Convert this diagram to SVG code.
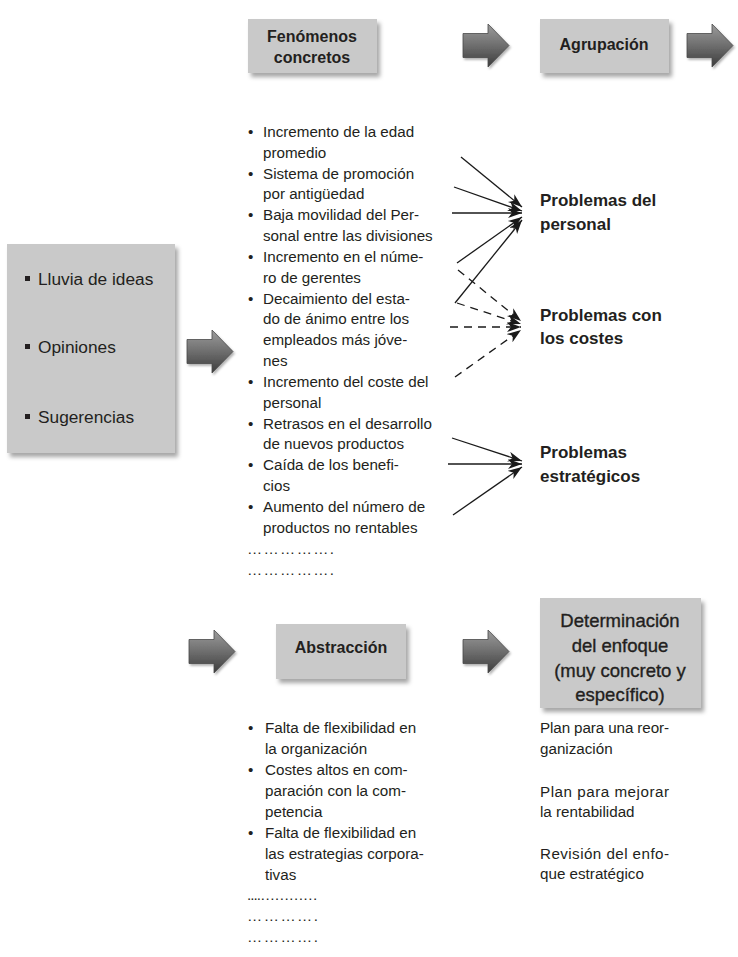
<svg xmlns="http://www.w3.org/2000/svg" width="738" height="957" viewBox="0 0 738 957">
<defs>
<style>
.box{fill:#c9c9c9;filter:url(#sh)}
.t{font-family:"Liberation Sans",Arial,sans-serif;font-size:15.2px;fill:#231f20}
.big{font-family:"Liberation Sans",Arial,sans-serif;font-size:17.3px;fill:#231f20}
.hd{font-family:"Liberation Sans",Arial,sans-serif;font-size:16px;font-weight:bold;fill:#231f20;text-anchor:middle}
.pb{font-family:"Liberation Sans",Arial,sans-serif;font-size:17px;font-weight:bold;fill:#231f20}
.det{font-family:"Liberation Sans",Arial,sans-serif;font-size:18.5px;fill:#231f20;stroke:#231f20;stroke-width:0.35;text-anchor:middle}
.ln{stroke:#1a1a1a;stroke-width:1.3;fill:none;marker-end:url(#ah)}
.dl{stroke:#1a1a1a;stroke-width:1.3;fill:none;stroke-dasharray:8 6;marker-end:url(#ah)}
.ba{fill:url(#ag);stroke:#4a4a4a;stroke-width:0.8;filter:url(#sh2)}
</style>
<filter id="sh" x="-10%" y="-10%" width="130%" height="130%">
<feDropShadow dx="3" dy="4" stdDeviation="2.2" flood-color="#000" flood-opacity="0.35"/>
</filter>
<filter id="sh2" x="-20%" y="-20%" width="150%" height="150%">
<feDropShadow dx="1.5" dy="2" stdDeviation="1.2" flood-color="#000" flood-opacity="0.3"/>
</filter>
<linearGradient id="ag" x1="0" y1="0" x2="0" y2="1">
<stop offset="0" stop-color="#9c9c9c"/>
<stop offset="0.5" stop-color="#6e6e6e"/>
<stop offset="1" stop-color="#3c3c3c"/>
</linearGradient>
<marker id="ah" markerUnits="userSpaceOnUse" markerWidth="16" markerHeight="12" refX="14" refY="5" orient="auto">
<path d="M0,0 L14,5 L0,10 L4,5 Z" fill="#1a1a1a"/>
</marker>
<path id="barrow" d="M0,9.5 H25 V0 L46,21.5 L25,43 V33.5 H0 Z"/>
</defs>

<g id="node-fuentes">
<rect class="box" x="7" y="244" width="168" height="209"/>
<rect x="25" y="276" width="5" height="5" fill="#231f20"/>
<text class="big" x="38" y="285">Lluvia de ideas</text>
<rect x="25" y="344" width="5" height="5" fill="#231f20"/>
<text class="big" x="38" y="353">Opiniones</text>
<rect x="25" y="414" width="5" height="5" fill="#231f20"/>
<text class="big" x="38" y="423">Sugerencias</text>
</g>

<g id="node-fenomenos">
<rect class="box" x="248" y="19" width="129" height="54"/>
<text class="hd" x="312" y="42">Fenómenos</text>
<text class="hd" x="312" y="63">concretos</text>
</g>

<g id="node-agrupacion">
<rect class="box" x="540" y="19" width="129" height="54"/>
<text class="hd" x="604" y="50">Agrupación</text>
</g>

<g id="node-abstraccion">
<rect class="box" x="276" y="624" width="130" height="55"/>
<text class="hd" x="341" y="653">Abstracción</text>
</g>

<g id="node-determinacion">
<rect class="box" x="540" y="598" width="161" height="110"/>
<text class="det" x="620" y="627">Determinación</text>
<text class="det" x="620" y="652">del enfoque</text>
<text class="det" x="620" y="677">(muy concreto y</text>
<text class="det" x="620" y="701">específico)</text>
</g>

<g id="node-fenomenos-lista">
<text class="t" x="248" y="137">•</text>
<text class="t" x="263" y="137">Incremento de la edad</text>
<text class="t" x="263" y="158">promedio</text>
<text class="t" x="248" y="179">•</text>
<text class="t" x="263" y="179">Sistema de promoción</text>
<text class="t" x="263" y="199">por antigüedad</text>
<text class="t" x="248" y="220">•</text>
<text class="t" x="263" y="220">Baja movilidad del Per-</text>
<text class="t" x="263" y="241">sonal entre las divisiones</text>
<text class="t" x="248" y="262">•</text>
<text class="t" x="263" y="262">Incremento en el núme-</text>
<text class="t" x="263" y="283">ro de gerentes</text>
<text class="t" x="248" y="304">•</text>
<text class="t" x="263" y="304">Decaimiento del esta-</text>
<text class="t" x="263" y="324">do de ánimo entre los</text>
<text class="t" x="263" y="345">empleados más jóve-</text>
<text class="t" x="263" y="366">nes</text>
<text class="t" x="248" y="387">•</text>
<text class="t" x="263" y="387">Incremento del coste del</text>
<text class="t" x="263" y="408">personal</text>
<text class="t" x="248" y="429">•</text>
<text class="t" x="263" y="429">Retrasos en el desarrollo</text>
<text class="t" x="263" y="449">de nuevos productos</text>
<text class="t" x="248" y="470">•</text>
<text class="t" x="263" y="470">Caída de los benefi-</text>
<text class="t" x="263" y="491">cios</text>
<text class="t" x="248" y="512">•</text>
<text class="t" x="263" y="512">Aumento del número de</text>
<text class="t" x="263" y="533">productos no rentables</text>
<text class="t" x="247" y="554" textLength="87" lengthAdjust="spacing">…………….</text>
<text class="t" x="247" y="575" textLength="87" lengthAdjust="spacing">…………….</text>
</g>

<g id="node-problemas-personal">
<text class="pb" x="540" y="206">Problemas del</text>
<text class="pb" x="540" y="230">personal</text>
</g>
<g id="node-problemas-costes">
<text class="pb" x="540" y="321">Problemas con</text>
<text class="pb" x="540" y="344">los costes</text>
</g>
<g id="node-problemas-estrategicos">
<text class="pb" x="540" y="458">Problemas</text>
<text class="pb" x="540" y="482">estratégicos</text>
</g>

<g id="node-abstraccion-lista">
<text class="t" x="248" y="733">•</text>
<text class="t" x="265" y="733">Falta de flexibilidad en</text>
<text class="t" x="265" y="754">la organización</text>
<text class="t" x="248" y="775">•</text>
<text class="t" x="265" y="775">Costes altos en com-</text>
<text class="t" x="265" y="796">paración con la com-</text>
<text class="t" x="265" y="817">petencia</text>
<text class="t" x="248" y="838">•</text>
<text class="t" x="265" y="838">Falta de flexibilidad en</text>
<text class="t" x="265" y="859">las estrategias corpora-</text>
<text class="t" x="265" y="880">tivas</text>
<text class="t" x="247" y="900" textLength="71" lengthAdjust="spacing">....…………</text>
<text class="t" x="247" y="921" textLength="71" lengthAdjust="spacing">………….</text>
<text class="t" x="247" y="942" textLength="71" lengthAdjust="spacing">………….</text>
</g>

<g id="node-enfoque-lista">
<text class="t" x="540" y="733" textLength="129" lengthAdjust="spacing">Plan para una reor-</text>
<text class="t" x="540" y="754">ganización</text>
<text class="t" x="540" y="797" textLength="129" lengthAdjust="spacing">Plan para mejorar</text>
<text class="t" x="540" y="817">la rentabilidad</text>
<text class="t" x="540" y="859" textLength="129" lengthAdjust="spacing">Revisión del enfo-</text>
<text class="t" x="540" y="879">que estratégico</text>
</g>

<g id="connectors">
<use href="#barrow" class="ba" transform="translate(463,24)"/>
<use href="#barrow" class="ba" transform="translate(687,24)"/>
<use href="#barrow" class="ba" transform="translate(187,330)"/>
<use href="#barrow" class="ba" transform="translate(189,630)"/>
<use href="#barrow" class="ba" transform="translate(463,630)"/>

<line class="ln" x1="461" y1="157" x2="522" y2="207"/>
<line class="ln" x1="454" y1="187" x2="522" y2="211"/>
<line class="ln" x1="452" y1="213" x2="522" y2="213"/>
<line class="ln" x1="457" y1="263" x2="522" y2="217"/>
<line class="ln" x1="455" y1="303" x2="522" y2="220"/>

<line class="dl" x1="458" y1="270" x2="521" y2="321"/>
<line class="dl" x1="457" y1="303" x2="521" y2="324"/>
<line class="dl" x1="450" y1="327" x2="521" y2="327"/>
<line class="dl" x1="455" y1="377" x2="521" y2="330"/>

<line class="ln" x1="452" y1="438" x2="522" y2="461"/>
<line class="ln" x1="448" y1="464" x2="522" y2="464"/>
<line class="ln" x1="453" y1="515" x2="522" y2="467"/>
</g>
</svg>
